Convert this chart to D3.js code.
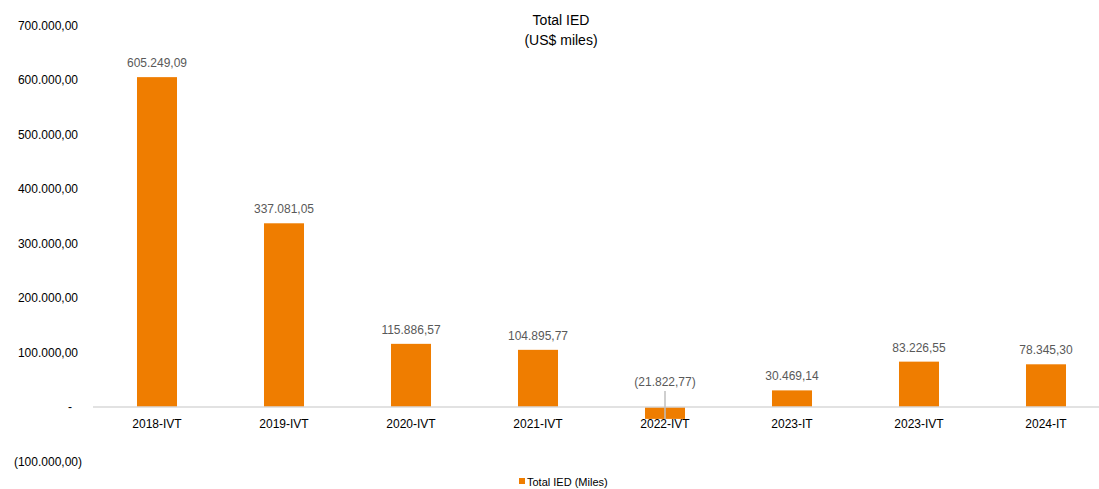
<!DOCTYPE html>
<html>
<head>
<meta charset="utf-8">
<script src="https://cdn.jsdelivr.net/npm/d3@7"></script>
<style>
  body { margin: 0; background: #fff; }
  svg { display: block; font-family: "Liberation Sans", Arial, sans-serif; }
</style>
</head>
<body>
<svg id="chart" width="1099" height="489"></svg>
<script>
// Chart data.
const categories = ["2018-IVT", "2019-IVT", "2020-IVT", "2021-IVT", "2022-IVT", "2023-IT", "2023-IVT", "2024-IT"];
const values = [605249.09, 337081.05, 115886.57, 104895.77, -21822.77, 30469.14, 83226.55, 78345.30];
const yTicks = [-100000, 0, 100000, 200000, 300000, 400000, 500000, 600000, 700000];
const seriesName = "Total IED (Miles)";

const width = 1099;
const height = 489;
const barColor = "#ef7d00";

const svg = d3.select("#chart");

// Scales.
const x = d3.scaleBand()
    .domain(categories)
    .range([93.5, 1109.5])
    .paddingInner(0.685)
    .paddingOuter(0.3425);

const y = d3.scaleLinear()
    .domain([-100000, 700000])
    .range([461.5, 25.5]);

// Brazilian style number format, negatives in parentheses.
const loc = d3.formatLocale({decimal: ",", thousands: ".", grouping: [3], currency: ["", ""]});
const fmt = loc.format(",.2f");
function label(v) {
    if (v === 0) return "-";
    return v < 0 ? "(" + fmt(-v) + ")" : fmt(v);
}

// Title.
svg.append("text")
    .attr("x", 561).attr("y", 25)
    .attr("text-anchor", "middle")
    .attr("font-size", 14).attr("fill", "#000")
    .text("Total IED");
svg.append("text")
    .attr("x", 561).attr("y", 45)
    .attr("text-anchor", "middle")
    .attr("font-size", 14).attr("fill", "#000")
    .text("(US$ miles)");

// Y axis labels (no line, no ticks).
svg.append("g").selectAll("text")
    .data(yTicks)
    .join("text")
    .attr("x", function(d) {
        if (d === 0) return 72;
        return d < 0 ? 82 : 78;
    })
    .attr("y", d => y(d) + 4)
    .attr("text-anchor", "end")
    .attr("font-size", 12)
    .attr("fill", "#000")
    .text(label);

// Bars.
svg.append("g").selectAll("rect")
    .data(values)
    .join("rect")
    .attr("x", (d, i) => x(categories[i]))
    .attr("width", x.bandwidth())
    .attr("y", d => y(Math.max(d, 0)))
    .attr("height", d => Math.abs(y(d) - y(0)))
    .attr("fill", barColor);

// Zero line.
svg.append("line")
    .attr("x1", 93).attr("x2", width)
    .attr("y1", y(0)).attr("y2", y(0))
    .attr("stroke", "#d9d9d9")
    .attr("stroke-width", 1.5);

// Leader line for the negative bar label.
values.forEach(function(v, i) {
    if (v < 0) {
        const cx = x(categories[i]) + x.bandwidth() / 2;
        svg.append("line")
            .attr("x1", cx).attr("x2", cx)
            .attr("y1", y(0) - 16).attr("y2", y(v) + 1)
            .attr("stroke", "#bfbfbf")
            .attr("stroke-width", 1.5);
    }
});

// Category labels.
svg.append("g").selectAll("text")
    .data(categories)
    .join("text")
    .attr("x", d => x(d) + x.bandwidth() / 2)
    .attr("y", y(0) + 21)
    .attr("text-anchor", "middle")
    .attr("font-size", 12)
    .attr("fill", "#000")
    .text(d => d);

// Data labels.
svg.append("g").selectAll("text")
    .data(values)
    .join("text")
    .attr("x", (d, i) => x(categories[i]) + x.bandwidth() / 2)
    .attr("y", d => d < 0 ? y(0) - 21 : y(d) - 10)
    .attr("text-anchor", "middle")
    .attr("font-size", 12)
    .attr("fill", "#595959")
    .text(label);

// Legend, kept just inside the bottom edge.
const legend = svg.append("g").attr("transform", "translate(519, 478)");
legend.append("rect")
    .attr("width", 6).attr("height", 6)
    .attr("fill", barColor);
legend.append("text")
    .attr("x", 8).attr("y", 7.5)
    .attr("font-size", 11)
    .attr("fill", "#000")
    .text(seriesName);
</script>
</body>
</html>
